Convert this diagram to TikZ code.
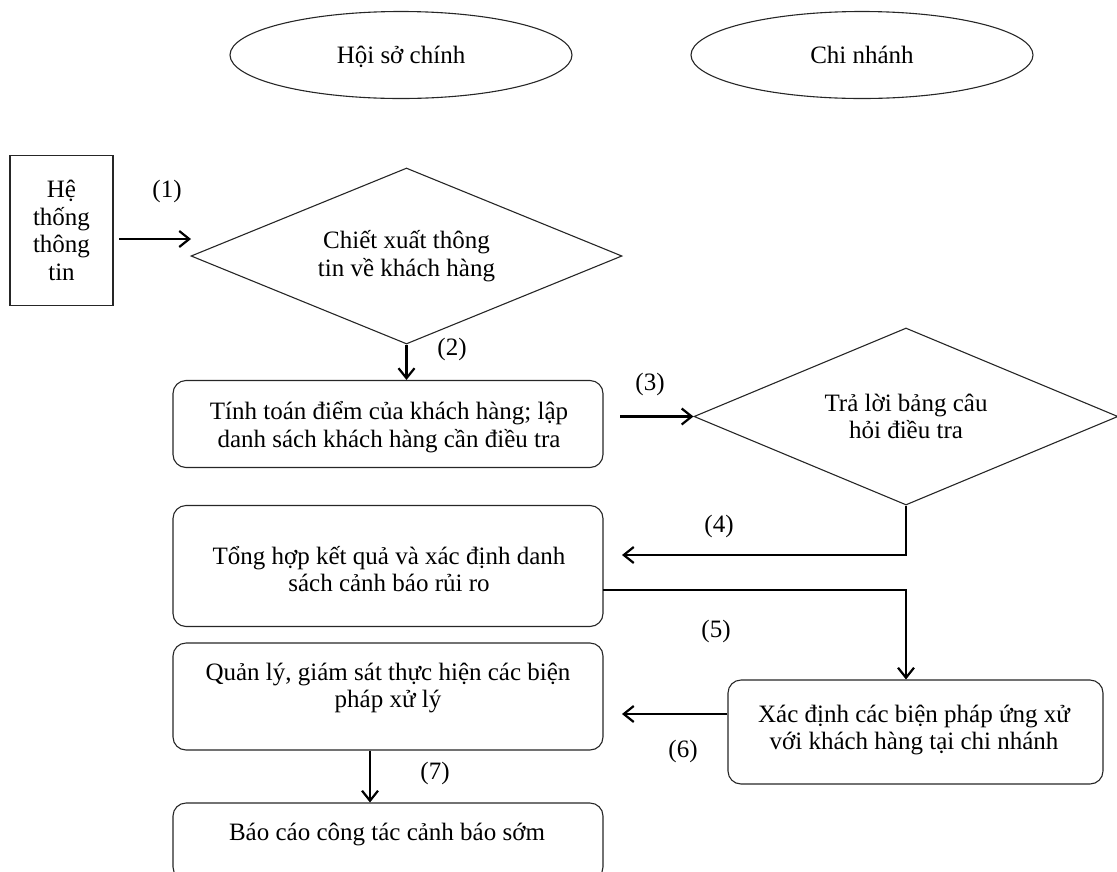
\documentclass[tikz,border=0pt]{standalone}
\usepackage{fontspec}
\setmainfont{Liberation Serif}
\usetikzlibrary{shapes.geometric,arrows.meta}
\begin{document}
\begin{tikzpicture}[x=1pt,y=-1pt,
  every node/.style={font=\fontsize{25}{27.5}\selectfont, inner sep=0pt},
  shapeline/.style={draw=black!85, line width=1.1pt},
  flowbox/.style={shapeline, rounded corners=13pt, minimum width=430pt},
  decision/.style={diamond, shapeline, align=center},
  lane/.style={ellipse, shapeline, minimum width=342pt, minimum height=87pt, text height=21pt, text depth=4pt},
  conn/.style={line width=2.2pt, -{Straight Barb[length=10pt,width=16pt]}},
  boxtext/.style={align=center}]
\useasboundingbox (0,0) rectangle (1117,871);

% lanes
\node[lane] (hq) at (401,55) {Hội sở chính};
\node[lane] (br) at (862,55) {Chi nhánh};

% source system
\node[shapeline, minimum width=103pt, minimum height=150pt, text width=90pt, align=center] (sys) at (61.5,230.5) {Hệ\\thống\\thông\\tin};

% decisions
\node[decision, aspect=2.45, minimum width=431pt, minimum height=176pt] (d1) at (406.5,256) {Chiết xuất thông\\tin về khách hàng};
\node[decision, aspect=2.4, minimum width=424pt, minimum height=177pt] (d2) at (906,416.5) {Trả lời bảng câu\\hỏi điều tra};

% process boxes
\node[flowbox, minimum height=87pt] (b2) at (388,424) {};
\node[boxtext] (b2t) at (389,427) {Tính toán điểm của khách hàng; lập\\danh sách khách hàng cần điều tra};

\node[flowbox, minimum height=121pt] (b3) at (388,566) {};
\node[boxtext] (b3t) at (389,569) {Tổng hợp kết quả và xác định danh\\sách cảnh báo rủi ro};

\node[flowbox, minimum height=107pt] (b5) at (388,696.5) {};
\node[boxtext] (b5t) at (388,688) {Quản lý, giám sát thực hiện các biện\\pháp xử lý};

\node[flowbox, minimum height=77pt] (b6) at (388,841.5) {};
\node[boxtext] (b6t) at (387,834) {Báo cáo công tác cảnh báo sớm};

\node[shapeline, rounded corners=13pt, minimum width=375pt, minimum height=104pt] (b4) at (915.5,732) {};
\node[boxtext] (b4t) at (914,730) {Xác định các biện pháp ứng xử\\với khách hàng tại chi nhánh};

% free connector ends
\coordinate (a1s) at (119,239);
\coordinate (a1e) at (191,239);
\coordinate (a3s) at (620,416.5);
\coordinate (a4e) at (622,555);
\coordinate (a5s) at (603,590);
\coordinate (a6e) at (622,714);
\coordinate (a7) at (370,0);

% connectors
\draw[conn] (a1s) -- (a1e);
\draw[conn] (d1.south) -- (d1.south |- b2.north);
\draw[conn] (a3s) -- (d2.west);
\draw[conn] (d2.south) |- (a4e);
\draw[conn] (a5s) -| (d2.south |- b4.north);
\draw[conn] (b4.west |- a6e) -- (a6e);
\draw[conn] (b5.south -| a7) -- (b6.north -| a7);

% step labels
\node (l1) at (167,191) {(1)};
\node (l2) at (452,349) {(2)};
\node (l3) at (650,384) {(3)};
\node (l4) at (719,526) {(4)};
\node (l5) at (716,631) {(5)};
\node (l6) at (683,751) {(6)};
\node (l7) at (435,773) {(7)};
\end{tikzpicture}
\end{document}
